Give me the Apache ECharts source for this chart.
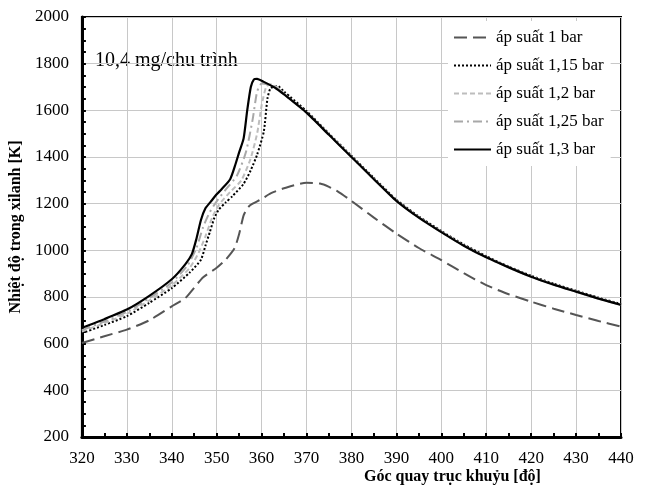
<!DOCTYPE html>
<html>
<head>
<meta charset="utf-8">
<script src="https://cdn.jsdelivr.net/npm/echarts@6/dist/echarts.min.js"></script>
<style>html,body{margin:0;padding:0;background:#fff}#c{width:645px;height:485px}</style>
</head>
<body>
<div id="c"></div>
<script>
// ---- data ----
const seriesNames = ['áp suất 1 bar', 'áp suất 1,15 bar', 'áp suất 1,2 bar', 'áp suất 1,25 bar', 'áp suất 1,3 bar'];
const xTicks = [320, 330, 340, 350, 360, 370, 380, 390, 400, 410, 420, 430, 440];
const yTicks = [200, 400, 600, 800, 1000, 1200, 1400, 1600, 1800, 2000];

const angle1 = [320,325,330,335,340,343,345,347,350,352,354,355,356,357,358,360,362,365,370,373,375,377,380,385,390,395,400,405,410,415,420,425,430,435,440];
const temp1  = [603,632,660,700,760,795,840,885,925,960,1010,1070,1150,1185,1200,1220,1244,1266,1290,1286,1272,1252,1212,1140,1072,1010,958,902,851,812,780,750,723,697,673];

const angle115 = [320,325,330,335,340,344,346.5,347.5,348.5,349.5,350.5,352,353.5,356,357.6,359,360.5,361.3,362,363.5,365,370,375,380,385,390,395,400,405,410,415,420,425,430,435,440];
const temp115  = [645,680,718,775,838,905,960,1020,1080,1140,1175,1205,1232,1285,1344,1410,1510,1650,1695,1705,1680,1597,1500,1405,1310,1217,1145,1083,1025,975,930,891,857,827,797,770];

const angle12 = [320,325,330,335,340,344,346,347.5,349,350.5,353,355.5,357.5,359,360,361,362,364,365,370,375,380,385,390,395,400,405,410,415,420,425,430,435,440];
const temp12  = [652,688,728,785,850,925,990,1060,1140,1195,1250,1300,1390,1500,1620,1700,1712,1692,1670,1591,1496,1401,1306,1213,1141,1079,1021,971,928,888,854,824,794,767];

const angle125 = [320,325,330,335,340,343.5,345.5,347,348.5,350,352,354.5,356.5,358,359,360,362,364,365,370,375,380,385,390,395,400,405,410,415,420,425,430,435,440];
const temp125  = [658,695,736,795,862,935,1010,1100,1165,1210,1260,1320,1420,1560,1680,1715,1708,1688,1668,1590,1495,1400,1305,1212,1140,1078,1020,970,927,887,853,823,793,766];

const angle13 = [320,325,330,335,340,343,344.5,345.5,346.5,347.5,348.7,350,351,353,354.2,355,356,356.8,357.6,358.3,359,360.5,363,365,370,375,380,385,390,395,400,405,410,415,420,425,430,435,440];
const temp13  = [668,705,746,805,876,940,985,1050,1130,1180,1209,1240,1260,1305,1370,1420,1480,1600,1700,1733,1735,1722,1697,1668,1590,1495,1400,1305,1212,1140,1078,1020,970,927,887,853,823,793,766];

const pair = (xs, ys) => xs.map((x, i) => [x, ys[i]]);

const serif = '"Liberation Serif", "Times New Roman", serif';
const chart = echarts.init(document.getElementById('c'));

const mk = (name, xs, ys, color, width, type, z) => ({
  name, type: 'line', data: pair(xs, ys), symbol: 'none', smooth: 0.2, z: z,
  lineStyle: { color, width, type }, itemStyle: { color }
});

chart.setOption({
  animation: false,
  backgroundColor: '#fff',
  grid: { left: 81, right: 24, top: 17, bottom: 48, show: true, borderColor: '#000', borderWidth: 2, backgroundColor: 'transparent' },
  xAxis: {
    type: 'value', min: xTicks[0], max: xTicks[xTicks.length - 1], interval: 10,
    axisLine: { show: true, lineStyle: { color: '#000', width: 3 } },
    axisTick: { show: true, inside: true, length: 4, lineStyle: { color: '#000', width: 2 } },
    minorTick: { show: true, splitNumber: 2, length: 4, lineStyle: { color: '#000', width: 2 } },
    splitLine: { show: true, lineStyle: { color: '#c8c8c8', width: 1 } },
    axisLabel: { color: '#000', fontFamily: serif, fontSize: 17, margin: 13, formatter: v => String(v) }
  },
  yAxis: {
    type: 'value', min: yTicks[0], max: yTicks[yTicks.length - 1], interval: 200,
    name: 'Nhiệt độ trong xilanh [K]', nameLocation: 'middle', nameGap: 53,
    nameTextStyle: { color: '#000', fontFamily: serif, fontSize: 16, fontWeight: 'bold' },
    axisLine: { show: true, lineStyle: { color: '#000', width: 3 } },
    axisTick: { show: true, inside: true, length: 4, lineStyle: { color: '#000', width: 2 } },
    minorTick: { show: true, splitNumber: 4, length: 4, lineStyle: { color: '#000', width: 2 } },
    splitLine: { show: true, lineStyle: { color: '#c8c8c8', width: 1 } },
    axisLabel: { color: '#000', fontFamily: serif, fontSize: 17, margin: 13, formatter: v => String(v) }
  },
  legend: {
    orient: 'vertical', left: 448, top: 21, itemWidth: 37, itemHeight: 14, itemGap: 11,
    padding: [8, 7, 8, 5], backgroundColor: '#fff',
    itemStyle: { opacity: 0 },
    textStyle: { color: '#000', fontFamily: serif, fontSize: 17 },
    data: seriesNames
  },
  graphic: [
    { type: 'text', left: 95, top: 51, style: { text: '10,4 mg/chu trình', font: '20px ' + serif, fill: '#000' } },
    { type: 'text', left: 364, top: 469, style: { text: 'Góc quay trục khuỷu [độ]', font: 'bold 16px ' + serif, fill: '#000', textAlign: 'center' } }
  ],
  series: [
    mk(seriesNames[0], angle1, temp1, '#555555', 2, [13, 6], 2),
    mk(seriesNames[1], angle115, temp115, '#000000', 2, [2, 2], 3),
    mk(seriesNames[2], angle12, temp12, '#bdbdbd', 2, [5, 3], 4),
    mk(seriesNames[3], angle125, temp125, '#a8a8a8', 2, [9, 4, 2, 4], 5),
    mk(seriesNames[4], angle13, temp13, '#000000', 2.2, 'solid', 6)
  ]
});
</script>
</body>
</html>
